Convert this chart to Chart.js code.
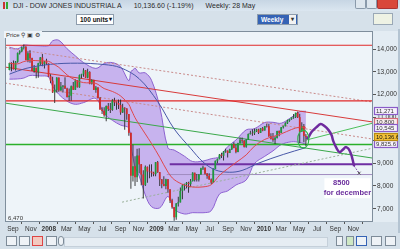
<!DOCTYPE html>
<html>
<head>
<meta charset="utf-8">
<script src="https://cdn.jsdelivr.net/npm/chart.js@4.4.1/dist/chart.umd.min.js"></script>
<style>
body{margin:0;width:400px;height:249px;overflow:hidden;background:#d6e1ea;font-family:"Liberation Sans",Arial,sans-serif;position:relative}
canvas{position:absolute;left:0;top:0}
#title{position:absolute;left:0;top:0;width:400px;height:11px;background:linear-gradient(#c7d6e4,#dbe6f0);font-size:7px;line-height:11px;color:#2b2b2b;white-space:nowrap}
#title .ico{display:inline-block;width:6px;height:7px;margin:0 4px 0 3px;vertical-align:-1px;background:linear-gradient(90deg,#c33 0 2px,transparent 2px 3px,#3a3 3px 5px,transparent 5px)}
.wb{position:absolute;top:0;height:8px;border:1px solid #8a9aab;border-top:0;background:#dde6ee;border-radius:0 0 2px 2px}
#tools{position:absolute;left:0;top:11px;width:400px;height:18px;background:#d6e1ea}
.dd{position:absolute;top:3px;height:9px;border:1px solid #8d9cac;background:#fff;font-size:6.5px;font-weight:bold;line-height:9px;padding-left:3px;color:#111}
.dd b{position:absolute;right:1px;top:0;font-size:6px}
.dd.sel{background:#3563b5;color:#fff}
.dd.sel b{background:#f2f2f2;color:#333;width:7px;text-align:center}
#chico{position:absolute;left:373px;top:2px;width:18px;height:10px;border:1px solid #9aa8b6;background:#eef2e4}
#price{position:absolute;left:4px;top:31px;font-size:6px;color:#333;background:#eef4f9;padding:0 2px}
#bottom{position:absolute;left:0;top:233px;width:400px;height:16px;background:#d6e1ea}
#edge{position:absolute;left:398px;top:29px;width:2px;height:204px;background:#b4c4d2}
.bi{position:absolute;top:3px;width:9px;height:8px;border:1px solid #7d8b98;background:#eef2f6}
#scroll{position:absolute;left:64px;top:4px;width:262px;height:8px;background:#e6edf3;border:1px solid #c5d0da}
</style>
</head>
<body>
<canvas id="chart" width="400" height="249"></canvas>
<div id="title"><span class="ico"></span>DJI - DOW JONES INDUSTRIAL A<span style="margin-left:12px">10,136.60 (-1.19%)</span><span style="margin-left:12px">Weekly: 28 May</span>
  <div class="wb" style="left:355px;width:9px"></div><div class="wb" style="left:366px;width:9px"></div><div class="wb" style="left:377px;width:19px;background:#d9473a;border-color:#a33"></div>
</div>
<div id="tools">
  <div class="dd" style="left:76px;width:33px">100 units<b>▾</b></div>
  <div class="dd sel" style="left:257px;width:36px">Weekly<b>▾</b></div>
  <div id="chico"></div>
</div>
<div id="edge"></div>
<div id="price">Price &#9906; &#9635; &#9881;</div>
<div id="bottom">
  <div class="bi" style="left:6px"></div><div class="bi" style="left:19px"></div>
  <div class="bi" style="left:32px;background:#f3c9c0;border-color:#d44"></div><div class="bi" style="left:46px"></div>
  <div class="bi" style="left:58px;width:4px;border-radius:3px"></div>
  <div id="scroll"></div>
  <div class="bi" style="left:336px;width:5px"></div><div class="bi" style="left:346px;width:6px;background:#cfe8c4"></div>
  <div class="bi" style="left:356px;border-color:#3563b5"></div><div class="bi" style="left:371px"></div><div class="bi" style="left:385px"></div>
</div>
<script>
// weekly candles, first week starting Monday 2007-08-20
const weekStart = '2007-08-20';
const opens = [13079,13379,13358,13113,13442,13820,13896,14066,14093,13522,13806,13595,13042,13176,12980,13372,13625,13339,13450,13366,
  12800,12606,12099,12207,12743,12182,12348,12381,12266,11894,11951,12361,12216,12609,12325,12849,12891,13058,12745,12986,
  12479,12638,12209,12307,11842,11346,11288,11100,11496,11370,11326,11734,11659,11628,11543,11220,11421,11388,11143,10325,
  8451,8852,8378,9325,8943,8497,8046,8829,8635,8629,8579,8515,9034,8599,8281,8077,8001,8280,7850,7366,
  7063,6627,7224,7279,7776,8017,8083,8131,8076,8212,8575,8268,8277,8500,8764,8799,8539,8438,8280,8146,
  8743,9093,9171,9370,9321,9505,9544,9441,9605,9820,9665,9487,9865,9995,9972,9713,10023,10270,10318,10310,
  10388,10471,10329,10520,10428,10618,10610,10173,10067,10012,10099,10402,10325,10567,10625,10742,10851,10927,10997,11019,
  11204,11009,10380,10620,10193];
const highs = [13400,13420,13500,13480,13850,13950,14090,14198,14120,13900,13950,13620,13300,13180,13400,13650,13780,13470,13570,13370,
  12900,12780,12450,12760,12750,12560,12420,12760,12300,12270,12400,12560,12680,12640,12880,12920,13160,13080,13140,13030,
  12680,12650,12380,12330,11900,11450,11450,11530,11630,11630,11800,11870,11700,11790,11790,11600,11450,11400,11150,10330,
  9800,9300,9630,9650,8960,8690,8900,8850,8940,8950,8620,9050,9090,8610,8300,8420,8310,8300,7860,7440,
  7070,7250,7530,7930,8080,8100,8170,8180,8300,8600,8580,8520,8520,8800,8880,8800,8570,8560,8330,8770,
  9110,9200,9400,9460,9530,9630,9550,9630,9830,9920,9800,9890,10120,10120,10010,10050,10300,10420,10480,10520,
  10510,10510,10540,10580,10630,10730,10730,10310,10320,10180,10420,10430,10580,10640,10790,10900,10930,11000,11150,11210,
  11258,11160,10790,10710,10280];
const lows = [13070,13030,13100,13060,13400,13760,13860,13980,13510,13420,13400,13040,12960,12720,12740,13280,13250,13150,13300,12790,
  12500,12070,11630,12100,12130,12170,12090,12250,11880,11720,11730,12200,12200,12310,12300,12720,12780,12730,12720,12460,
  12450,12200,12080,11840,11340,11150,11030,10830,11280,11200,11300,11500,11340,11370,11120,11200,10460,10900,10200,7880,
  8200,8000,8170,8560,8030,7450,8000,8140,8340,8400,8420,8430,8580,8000,7900,7990,7860,7700,7250,7000,
  6470,6520,7100,7270,7420,7800,7900,7700,7950,8200,8200,8200,8200,8490,8700,8500,8320,8270,8090,8140,
  8730,9000,9170,9220,9120,9450,9250,9440,9570,9650,9430,9480,9860,9860,9680,9670,10010,10250,10200,10230,
  10360,10280,10320,10400,10430,10560,10160,10040,9940,9840,10080,10180,10320,10520,10600,10720,10810,10900,10950,10980,
  10980,9870,10380,9920,9750];
const closes = [13379,13358,13113,13442,13820,13896,14066,14093,13522,13806,13595,13042,13176,12980,13372,13625,13339,13450,13366,12800,
  12606,12099,12207,12743,12182,12348,12381,12266,11894,11951,12361,12216,12609,12325,12849,12891,13058,12745,12986,12479,
  12638,12209,12307,11842,11346,11288,11100,11496,11370,11326,11734,11659,11628,11543,11220,11421,11388,11143,10325,8451,
  8852,8378,9325,8943,8497,8046,8829,8635,8629,8579,8515,9034,8599,8281,8077,8001,8280,7850,7366,7063,
  6627,7224,7279,7776,8017,8083,8131,8076,8212,8575,8268,8277,8500,8764,8799,8539,8438,8280,8146,8743,
  9093,9171,9370,9321,9505,9544,9441,9605,9820,9665,9487,9865,9995,9972,9713,10023,10270,10318,10310,10388,
  10471,10329,10520,10428,10618,10610,10173,10067,10012,10099,10402,10325,10567,10625,10742,10851,10927,10997,11019,11204,
  11009,10380,10620,10193,10137];

// bollinger band
const bandDates = ['2007-08-20','2007-09-17','2007-10-08','2007-10-29','2007-12-03','2007-12-31','2008-01-14','2008-02-04','2008-03-03','2008-03-31',
  '2008-04-28','2008-06-09','2008-07-07','2008-08-04','2008-09-01','2008-09-29','2008-10-06','2008-10-13','2008-10-20','2008-11-03',
  '2008-11-24','2008-12-15','2009-01-12','2009-02-09','2009-03-02','2009-04-06','2009-05-04','2009-06-08','2009-07-06','2009-08-03',
  '2009-08-31','2009-09-28','2009-11-02','2009-11-30','2010-01-04','2010-02-01','2010-03-01','2010-04-05','2010-05-03','2010-05-24'];
const bandUpper = [14080,14010,14170,14160,14140,14146,14360,14382,14012,13702,13405,13150,13364,13405,13219,12613,13016,13078,13163,12955,
  12953,12631,11470,9660,9572,9303,9070,9090,9194,9281,9723,10009,10458,10508,10779,10788,10749,11011,11253,11271];
const bandMid = [13380,13350,13450,13500,13480,13462,13360,13198,12864,12640,12529,12492,12268,12141,11943,11573,11372,11182,10991,10697,
  10279,9861,9255,8606,8278,8037,7953,7958,8054,8463,8753,9025,9360,9744,10039,10162,10281,10473,10579,10545];
const bandLower = [12680,12690,12730,12840,12820,12778,12360,12014,11716,11578,11653,11830,11172,10877,10667,10533,9728,9286,8819,8439,
  7605,7091,7040,7540,6984,6771,6830,6826,6914,7645,7783,8041,8262,8980,9299,9536,9813,9935,9905,9826];

// long moving average (blue)
const maDates = ['2007-08-20','2007-10-15','2008-01-07','2008-04-07','2008-07-07','2008-09-01','2008-11-03','2009-01-05','2009-03-02',
  '2009-04-27','2009-06-08','2009-07-20','2009-09-07','2009-10-19','2009-12-14','2010-03-08','2010-05-24'];
const maValues = [12900,13150,13330,13380,13320,13180,12700,11700,10500,9650,9050,8700,8600,8680,9000,9380,9680];

// drawn trend lines: [date, value] end points
const redTop = [['2007-08-05',14165],['2011-01-07',14165]];
const redMid = [['2007-08-05',11730],['2011-01-07',11730]];
const redFall = [['2007-08-05',13210],['2011-01-07',10800]];
const dotUpper = [['2007-08-05',14063],['2011-01-07',11675]];
const dotLower = [['2007-08-05',12509],['2011-01-07',10053]];
const greenFall = [['2007-08-05',11632],['2011-01-07',9219]];
const greenFlat = [['2007-08-05',9820],['2011-01-07',9820]];
const greenRise = [['2010-05-24',10009],['2011-01-07',10755]];
const dotRise = [['2008-09-06',7290],['2011-01-07',9658]];
const purpleFlat = [['2009-02-15',8950],['2011-01-07',8950]];
const target = [['2009-02-05',8500],['2011-01-07',8500]];

// hand drawn forecast
const projDates = ['2010-05-26','2010-05-30','2010-06-12','2010-06-29','2010-07-13','2010-07-26','2010-08-09','2010-08-19','2010-08-25',
  '2010-09-05','2010-09-15','2010-09-25','2010-10-08','2010-10-22','2010-11-04'];
const projValues = [10137,10096,10360,10579,10710,10623,10447,10228,9965,9658,9482,9570,9702,9482,8868];
const arrowDates = ['2010-11-04','2010-11-21'];
const arrowValues = [8868,8561];

const ringAt = ['2010-05-15', 10050];
const noteAt = ['2010-10-12', 7900];
const noteLines = ['8500', 'for december'];
const lowLabel = '6,470';

const xTickDates = ['2007-09-01','2007-11-01','2008-01-01','2008-03-01','2008-05-01','2008-07-01','2008-09-01','2008-11-01','2009-01-01','2009-03-01',
  '2009-05-01','2009-07-01','2009-09-01','2009-11-01','2010-01-01','2010-03-01','2010-05-01','2010-07-01','2010-09-01','2010-11-01'];
const xTickLabels = ['Sep','Nov','2008','Mar','May','Jul','Sep','Nov','2009','Mar','May','Jul','Sep','Nov','2010','Mar','May','Jul','Sep','Nov'];
const yTicks = [7000,8000,9000,10000,11000,12000,13000,14000];
const markerValues = [10800, 11271, 10545, 9825.6, 10136.6];
const markerLabels = ['10,800','11,271','10,545','9,825.6','10,136.6'];

const origin = Date.parse('2007-09-01');
const wk = s => (Date.parse(s) - origin) / 604800000;
const x0 = wk(weekStart);

const candleX = closes.map((_, i) => x0 + i);
const pts = (dates, vals) => dates.map((d, i) => ({ x: wk(d), y: vals[i] }));
const seg = p => p.map(([d, v]) => ({ x: wk(d), y: v }));
const upDown = closes.map((c, i) => c >= opens[i] ? '#1d9a3c' : '#d62b2b');

function trend(data, color, width, dash) {
    return { type: 'line', data: seg(data), borderColor: color, borderWidth: width, borderDash: dash || [],
        pointRadius: 0, tension: 0, order: 6 };
}

const ctx = document.getElementById('chart').getContext('2d');

const overlay = {
    id: 'overlay',
    beforeDraw(chart) {
        const { ctx, chartArea: a } = chart;
        ctx.save();
        ctx.fillStyle = '#e3ecf3';
        ctx.fillRect(a.right, a.top, 400 - a.right, a.bottom - a.top);
        ctx.fillStyle = '#eef4f9';
        ctx.fillRect(a.left, a.top, a.right - a.left, a.bottom - a.top);
        ctx.restore();
    },
    afterDraw(chart) {
        const { ctx, chartArea: a, scales: { x, y } } = chart;
        ctx.save();
        ctx.strokeStyle = '#7f8e9c';
        ctx.lineWidth = 1;
        ctx.strokeRect(a.left + 0.5, a.top + 0.5, a.right - a.left - 1, a.bottom - a.top - 1);

        // green ring round the last bars
        ctx.strokeStyle = '#2fb34a';
        ctx.lineWidth = 1.2;
        ctx.beginPath();
        ctx.ellipse(x.getPixelForValue(wk(ringAt[0])), y.getPixelForValue(ringAt[1]), 5.5, 9, 0, 0, Math.PI * 2);
        ctx.stroke();

        // note
        const nx = x.getPixelForValue(wk(noteAt[0]));
        const ny = y.getPixelForValue(noteAt[1]);
        ctx.fillStyle = '#ffffff';
        ctx.fillRect(nx - 23, ny - 10, 46, 20);
        ctx.fillStyle = '#6a2d9c';
        ctx.font = 'bold 7.5px "Liberation Sans", Arial';
        ctx.textAlign = 'center';
        ctx.textBaseline = 'middle';
        ctx.fillText(noteLines[0], nx - 6, ny - 5);
        ctx.fillText(noteLines[1], nx, ny + 5);

        // min label
        ctx.fillStyle = '#333';
        ctx.font = '6px "Liberation Sans", Arial';
        ctx.textAlign = 'left';
        ctx.fillText(lowLabel, a.left + 3, y.getPixelForValue(6560));

        // price boxes on the axis
        const boxStyle = [['#fbeef0', '#d46a7a', '#333'], ['#f7f2fd', '#8a5cc8', '#333'], ['#f7f2fd', '#8a5cc8', '#333'],
            ['#f7f2fd', '#8a5cc8', '#333'], ['#f5c33b', '#b88a10', '#111']];
        ctx.font = '6px "Liberation Sans", Arial';
        markerValues.forEach((v, i) => {
            const py = Math.round(y.getPixelForValue(v));
            const [bg, bd, tc] = boxStyle[i];
            ctx.fillStyle = bg;
            ctx.fillRect(a.right + 1, py - 4, 24, 8);
            ctx.strokeStyle = bd;
            ctx.strokeRect(a.right + 1.5, py - 3.5, 23, 7);
            ctx.fillStyle = tc;
            ctx.fillText(markerLabels[i], a.right + 3, py + 0.5);
        });
        ctx.restore();
    }
};

new Chart(ctx, {
    type: 'line',
    data: {
        datasets: [
            { type: 'line', data: pts(projDates, projValues), borderColor: '#6e2a9e', borderWidth: 2.5, pointRadius: 0, tension: 0.4, order: 0 },
            { type: 'line', data: pts(arrowDates, arrowValues), borderColor: '#6e2a9e', borderWidth: 1, borderDash: [1.5, 1.5],
              pointRadius: [0, 2], pointStyle: 'crossRot', pointBorderColor: '#555', order: 0 },
            { type: 'line', data: pts(bandDates, bandMid), borderColor: '#e0474c', borderWidth: 1, pointRadius: 0, tension: 0.35, order: 2 },
            { type: 'line', data: pts(maDates, maValues), borderColor: '#4858a8', borderWidth: 1, pointRadius: 0, tension: 0.35, order: 2 },
            { type: 'bar', data: candleX.map((x, i) => ({ x, y: [Math.min(opens[i], closes[i]), Math.max(opens[i], closes[i]) + 8] })),
              backgroundColor: upDown, grouped: false, categoryPercentage: 1, barPercentage: 0.85, order: 3 },
            { type: 'bar', data: candleX.map((x, i) => ({ x, y: [lows[i], highs[i]] })),
              backgroundColor: '#2a2a2a', grouped: false, maxBarThickness: 0.9, order: 4 },
            trend(redTop, '#e02828', 1.2),
            trend(redMid, '#e02828', 1.2),
            trend(redFall, '#d83a3a', 1),
            trend(dotUpper, '#c98a8a', 1, [2, 2]),
            trend(dotLower, '#c98a8a', 1, [2, 2]),
            trend(greenFall, '#3aa84a', 1),
            trend(greenFlat, '#2bb02b', 1.5),
            trend(greenRise, '#4cbf5a', 1),
            trend(dotRise, '#9ab09a', 1, [2, 2]),
            trend(purpleFlat, '#6f2fa3', 2),
            trend(target, '#a08cc0', 1),
            { type: 'line', data: pts(bandDates, bandUpper), borderColor: '#8c62cf', borderWidth: 1, pointRadius: 0, tension: 0.35,
              fill: '+1', backgroundColor: 'rgba(150,100,225,0.45)', order: 8 },
            { type: 'line', data: pts(bandDates, bandLower), borderColor: '#8c62cf', borderWidth: 1, pointRadius: 0, tension: 0.35, order: 9 }
        ]
    },
    options: {
        responsive: false,
        animation: false,
        layout: { padding: { top: 31, left: 2, right: 0, bottom: 0 } },
        plugins: { legend: { display: false }, tooltip: { enabled: false } },
        scales: {
            x: {
                type: 'linear',
                offset: false,
                min: wk('2007-08-05'),
                max: wk('2011-01-07'),
                afterBuildTicks: s => { s.ticks = xTickDates.map(d => ({ value: wk(d) })); },
                afterFit: s => { s.height = 27; },
                border: { display: false },
                grid: { drawOnChartArea: false, tickLength: 2, color: '#555' },
                ticks: {
                    autoSkip: false,
                    maxRotation: 0,
                    padding: 1,
                    color: '#333',
                    font: c => ({ family: '"Liberation Sans", Arial', size: 6.5, weight: /^\d{4}$/.test(xTickLabels[c.index]) ? 'bold' : 'normal' }),
                    callback: (v, i) => xTickLabels[i]
                }
            },
            y: {
                position: 'right',
                min: 6420,
                max: 14790,
                stacked: false,
                afterBuildTicks: s => { s.ticks = yTicks.map(v => ({ value: v })); },
                afterFit: s => { s.width = 27; },
                border: { display: false },
                grid: { drawOnChartArea: false, tickLength: 3, color: '#555' },
                ticks: {
                    padding: 1,
                    color: '#333',
                    font: { family: '"Liberation Sans", Arial', size: 6.5 },
                    callback: v => v.toLocaleString('en-US')
                }
            }
        }
    },
    plugins: [overlay]
});
</script>
</body>
</html>
